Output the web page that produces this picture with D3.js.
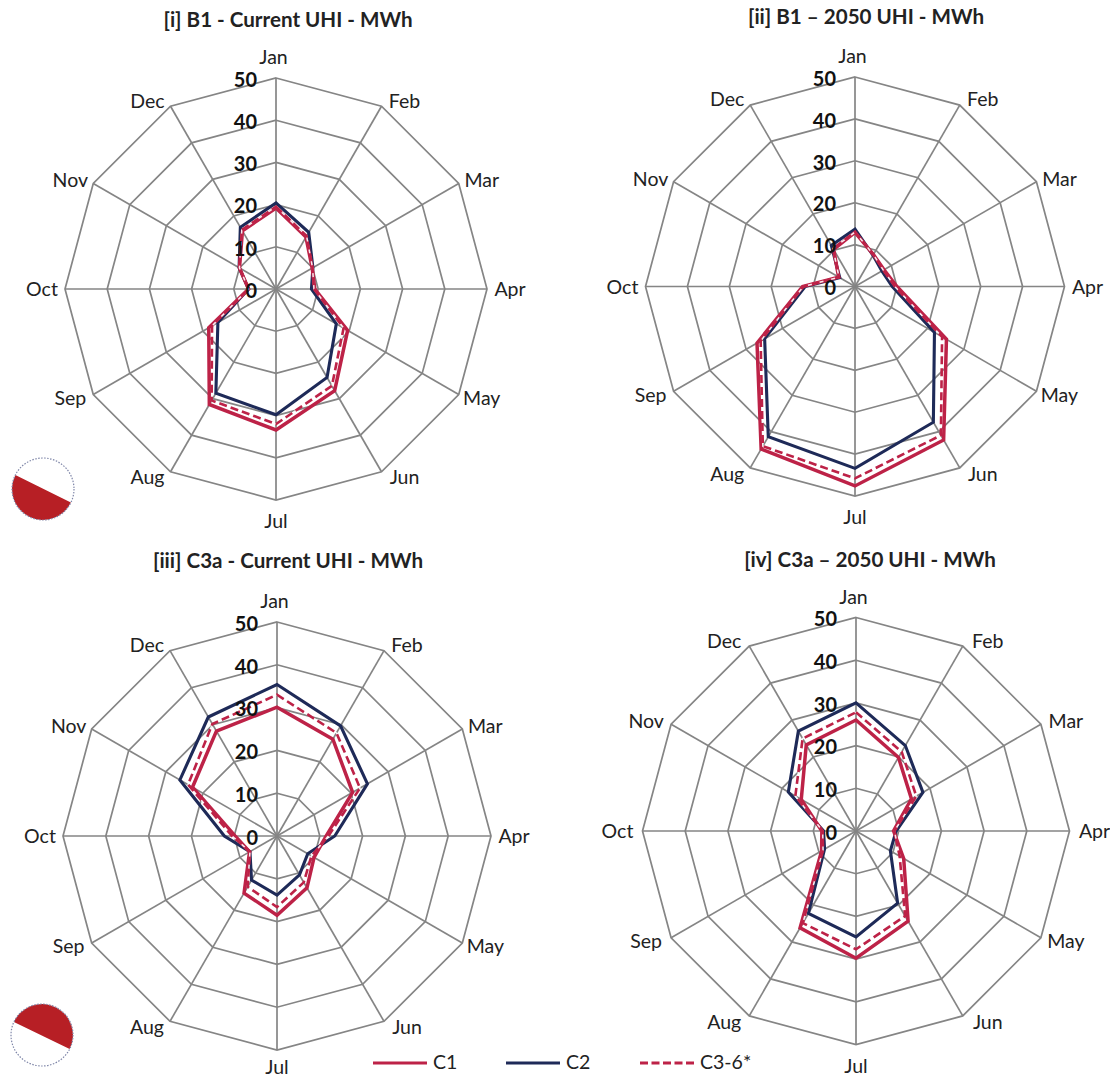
<!DOCTYPE html>
<html><head><meta charset="utf-8">
<script src="https://cdn.jsdelivr.net/npm/d3@7"></script>
<style>html,body{margin:0;padding:0;background:#fff}svg{display:block}text{font-family:Lato,"Open Sans",sans-serif}</style>
</head><body><svg id="c" width="1110" height="1078"></svg>
<script>
const months = ["Jan","Feb","Mar","Apr","May","Jun","Jul","Aug","Sep","Oct","Nov","Dec"];
const ringTicks = [0,10,20,30,40,50];
const titles = ["[i] B1 - Current UHI - MWh","[ii] B1 – 2050 UHI - MWh","[iii] C3a - Current UHI - MWh","[iv] C3a – 2050 UHI - MWh"];
const legendLabels = ["C1","C2","C3-6*"];

const c1_i   = [19.2,14.2,9.9,9.2,19.6,27.8,33.4,31.6,18.4,6.5,10,15.9];
const c2_i   = [20.4,15.5,10.1,8.4,16.5,24.2,29.8,28.5,15.9,6.5,10.1,16.9];
const c3_i   = [19.5,14.5,10,9,18.5,26.5,32,30.5,17.5,6.5,10,16.2];

const c1_ii  = [12.9,8.8,8,10,25.2,42.3,47.6,44.8,27,12.5,4.5,10.2];
const c2_ii  = [13.7,8.6,7.4,8.9,21.9,37.4,43.4,41.4,24.9,11.9,4.2,11.3];
const c3_ii  = [13,8.8,7.8,9.5,24,41,45.8,44,26,12.3,4.4,10.5];

const c1_iii = [30.1,26.1,20.4,11.5,10,14,18.5,15.4,7.4,9.8,22.8,28.3];
const c2_iii = [35.4,29.7,24.4,13.5,8.3,10.5,13.8,11.9,7.3,12.3,26.2,32.1];
const c3_iii = [33,27.8,22.4,12,9.3,12.5,16.6,13.7,7.3,10.5,24,30.2];

const c1_iv  = [26,19.9,15,8.8,12.9,24.4,29.8,26.2,9.3,8,14.8,23.3];
const c2_iv  = [30,23.1,18.1,9.4,9.3,19.5,24.8,22.3,8.5,7.6,18.3,27];
const c3_iv  = [27.8,21.4,16.3,9,11.8,23,27.7,24.9,8.9,7.8,16.4,25];

const seriesByPanel = [[c1_i,c2_i,c3_i],[c1_ii,c2_ii,c3_ii],[c1_iii,c2_iii,c3_iii],[c1_iv,c2_iv,c3_iv]];

const RED="#bd2247", NAVY="#1e2a58", GRID="#858585", PIE="#b71f25";
const panels=[
  {cx:276,cy:289,R:211,tx:288,ty:20,pad:23},
  {cx:855,cy:286.5,R:209.5,tx:866,ty:17,pad:23},
  {cx:277,cy:836,R:214,tx:288,ty:561,pad:23},
  {cx:856,cy:831,R:213.5,tx:870,ty:560,pad:25}
];
const svg=d3.select("#c");
const angle=d3.scalePoint().domain(months).range([0,2*Math.PI*11/12]);
const fmt=d3.format("d");

panels.forEach((p,k)=>{
  const g=svg.append("g").attr("transform",`translate(${p.cx},${p.cy})`);
  const r=d3.scaleLinear().domain([0,50]).range([0,p.R]);
  const shape=(vals)=>d3.lineRadial().angle((v,i)=>angle(months[i])).radius(v=>r(v)).curve(d3.curveLinearClosed)(vals);

  ringTicks.slice(1).forEach(t=>{
    g.append("path").attr("d",shape(months.map(()=>t))).attr("fill","none").attr("stroke",GRID).attr("stroke-width",1.7);
  });
  months.forEach(m=>{
    const a=angle(m);
    g.append("line").attr("x1",0).attr("y1",0)
      .attr("x2",r(50)*Math.sin(a)).attr("y2",-r(50)*Math.cos(a))
      .attr("stroke",GRID).attr("stroke-width",1.7);
  });
  const [c1,c2,c3]=seriesByPanel[k];
  g.append("path").attr("d",shape(c2)).attr("fill","none").attr("stroke",NAVY).attr("stroke-width",3.1).attr("stroke-linejoin","miter");
  g.append("path").attr("d",shape(c1)).attr("fill","none").attr("stroke",RED).attr("stroke-width",3.5).attr("stroke-linejoin","miter");
  g.append("path").attr("d",shape(c3)).attr("fill","none").attr("stroke","#fff").attr("stroke-width",1.5).attr("opacity",0.9);
  g.append("path").attr("d",shape(c3)).attr("fill","none").attr("stroke",RED).attr("stroke-width",2.6).attr("stroke-dasharray","8 4");

  ringTicks.forEach(t=>{
    g.append("text").attr("x",-19).attr("y",-r(t)+1.5).attr("dy","0.36em").attr("text-anchor","end")
      .attr("font-size",20).attr("font-weight",700).attr("fill","#111").text(fmt(t));
  });
  months.forEach(m=>{
    const a=angle(m), s=Math.sin(a), co=Math.cos(a);
    const side=Math.abs(s)<0.01?0:Math.sign(s);
    const lx=r(50)*s+side*p.pad+(m==="Jan"?-2.5:0);
    const ly=Math.min(-r(50)*co+(side===0?-21*co:-6.5*co), 1067-p.cy);
    g.append("text").attr("x",lx).attr("y",ly).attr("dy","0.36em").attr("text-anchor","middle")
      .attr("font-size",19.5).attr("fill","#222").text(m);
  });
  svg.append("text").attr("x",p.tx).attr("y",p.ty).attr("dy","0.36em").attr("text-anchor","middle")
    .attr("font-size",20.6).attr("font-weight",700).attr("fill","#222").text(titles[k]);
});

// small insets: a filled chord segment of a dotted circle
const insetArcs=[{cx:43,cy:489,r:31,from:116,to:297},{cx:42,cy:1035,r:31,from:-65,to:117}];
insetArcs.forEach(d=>{
  const g=svg.append("g").attr("transform",`translate(${d.cx},${d.cy})`);
  const pt=a=>[d.r*Math.sin(a*Math.PI/180),-d.r*Math.cos(a*Math.PI/180)];
  const [x0,y0]=pt(d.from),[x1,y1]=pt(d.to);
  g.append("path").attr("d",`M${x0},${y0}A${d.r},${d.r} 0 1 1 ${x1},${y1}Z`).attr("fill",PIE);
  g.append("circle").attr("r",d.r).attr("fill","none").attr("stroke","#7f86a8").attr("stroke-width",1.2).attr("stroke-dasharray","1.5 1.5");
});

// legend
const legendX=d3.scaleOrdinal().domain(legendLabels).range([373,506,640]);
legendLabels.forEach((l,i)=>{
  const x=legendX(l);
  const ln=svg.append("line").attr("x1",x).attr("x2",x+54).attr("y1",1063).attr("y2",1063)
    .attr("stroke",i===1?NAVY:RED).attr("stroke-width",3.2);
  if(i===2) ln.attr("stroke-dasharray","8 3.5");
  svg.append("text").attr("x",x+60).attr("y",1062).attr("dy","0.36em").attr("font-size",19.5).attr("fill","#222").text(l);
});
</script></body></html>
